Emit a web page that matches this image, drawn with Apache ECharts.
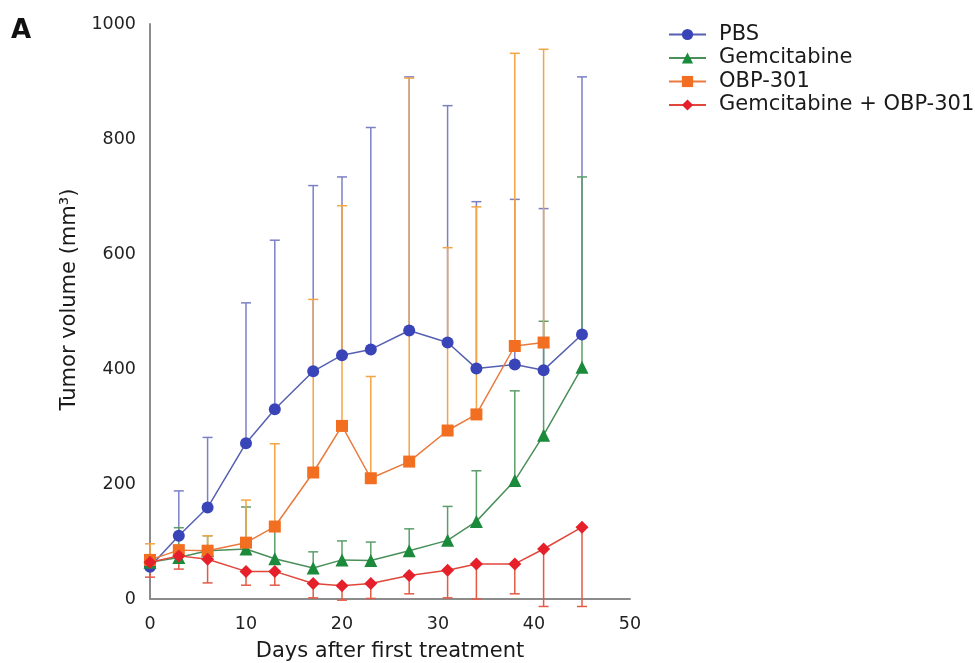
<!DOCTYPE html>
<html>
<head>
<meta charset="utf-8">
<script src="https://cdn.jsdelivr.net/npm/echarts@6/dist/echarts.min.js"></script>
<style>
  html, body { margin: 0; padding: 0; background: #fff; }
  #chart { width: 975px; height: 663px; }
</style>
</head>
<body>
<div id="chart"></div>
<script>
// days after first treatment
const days = [0, 3, 6, 10, 13, 17, 20, 23, 27, 31, 34, 38, 41, 45];

// means and error-bar ends (mm3)
const pbsMean = [56, 110, 159, 271, 330, 396, 424, 434, 467, 446, 401, 408, 398, 460];
const pbsUpper = [62, 188, 281, 515, 624, 719, 734, 820, 908, 858, 691, 695, 679, 908];

const gemMean = [64, 72, 84, 87, 70, 54, 68, 67, 84, 102, 135, 206, 285, 403];
const gemUpper = [72, 124, 110, 160, 130, 82, 101, 99, 122, 161, 223, 362, 483, 734];

const obpDays = [0, 3, 6, 10, 13, 17, 20, 23, 27, 31, 34, 38, 41];
const obpMean = [68, 85, 84, 98, 126, 220, 301, 210, 239, 293, 321, 440, 446];
const obpUpper = [96, 92, 110, 172, 270, 521, 684, 387, 906, 611, 682, 949, 956];

const comboMean = [64, 75, 69, 48, 48, 27, 23, 27, 41, 50, 61, 61, 87, 125];
const comboLower = [38, 52, 28, 24, 24, 2, -2, 1, 9, 2, 0, 9, -13, -13];

const yTicks = [0, 200, 400, 600, 800, 1000];
const xTicks = [0, 10, 20, 30, 40, 50];

const FONT = 'DejaVu Sans, sans-serif';

function pairs(xs, ys) {
    return xs.map((x, i) => [x, ys[i]]);
}

// error bar: line from mean to end, cap at the end only
function errorBars(name, xs, from, to, color) {
    return {
        name: name,
        type: 'custom',
        z: 1,
        silent: true,
        data: xs.map((x, i) => [x, from[i], to[i]]),
        encode: { x: 0, y: [1, 2] },
        renderItem: (params, api) => {
            const p0 = api.coord([api.value(0), api.value(1)]);
            const p1 = api.coord([api.value(0), api.value(2)]);
            return {
                type: 'group',
                children: [
                    { type: 'line', shape: { x1: p0[0], y1: p0[1], x2: p1[0], y2: p1[1] },
                      style: { stroke: color, lineWidth: 1.5 } },
                    { type: 'line', shape: { x1: p1[0] - 5, y1: p1[1], x2: p1[0] + 5, y2: p1[1] },
                      style: { stroke: color, lineWidth: 1.5 } }
                ]
            };
        }
    };
}

function lineSeries(name, data, symbol, size, markerColor, lineColor) {
    return {
        name: name,
        type: 'line',
        z: 3,
        data: data,
        symbol: symbol,
        symbolSize: size,
        showAllSymbol: true,
        itemStyle: { color: markerColor, opacity: 1 },
        lineStyle: { color: lineColor, width: 1.5 },
        emphasis: { disabled: true }
    };
}

let chartDom = document.getElementById('chart');
let myChart = echarts.init(chartDom);
let option = {
    animation: false,
    backgroundColor: '#fff',
    textStyle: { fontFamily: FONT },
    grid: { left: 150, right: 345, top: 24, bottom: 64, outerBoundsMode: 'none', containLabel: false },
    graphic: [{
        type: 'text', left: 11, top: 18,
        style: { text: 'A', font: 'bold 26px ' + FONT, fill: '#111' }
    }],
    legend: {
        orient: 'vertical',
        left: 663,
        top: 19,
        itemWidth: 37,
        itemHeight: 14,
        itemGap: 2.5,
        data: ['PBS', 'Gemcitabine', 'OBP-301', 'Gemcitabine + OBP-301'],
        textStyle: { fontSize: 21, lineHeight: 21, color: '#1a1a1a', padding: [0, 0, 0, 8], fontFamily: FONT }
    },
    xAxis: {
        type: 'value',
        min: xTicks[0],
        max: xTicks[xTicks.length - 1],
        interval: 10,
        name: 'Days after first treatment',
        nameLocation: 'middle',
        nameGap: 42,
        nameTextStyle: { fontSize: 21, color: '#1a1a1a' },
        axisLine: { lineStyle: { color: '#8c8c8c', width: 2 } },
        axisTick: { show: false },
        splitLine: { show: false },
        axisLabel: { fontSize: 17.5, color: '#222', margin: 16, formatter: v => String(v) }
    },
    yAxis: {
        type: 'value',
        min: yTicks[0],
        max: yTicks[yTicks.length - 1],
        interval: 200,
        name: 'Tumor volume (mm³)',
        nameLocation: 'middle',
        nameGap: 70,
        nameTextStyle: { fontSize: 21, color: '#1a1a1a', padding: [0, 0, 0, 24] },
        axisLine: { show: true, lineStyle: { color: '#8c8c8c', width: 2 } },
        axisTick: { show: false },
        splitLine: { show: false },
        axisLabel: { fontSize: 17.5, color: '#222', margin: 14, formatter: v => String(v) }
    },
    series: [
        errorBars('PBS err', days, pbsMean, pbsUpper, '#7b80c6'),
        errorBars('Gem err', days, gemMean, gemUpper, '#5c9e6b'),
        errorBars('OBP err', obpDays, obpMean, obpUpper, '#f4a445'),
        errorBars('Combo err', days, comboMean, comboLower, '#e35a44'),
        lineSeries('PBS', pairs(days, pbsMean), 'circle', 12, '#3944b8', '#5660b2'),
        lineSeries('Gemcitabine', pairs(days, gemMean), 'triangle', 13, '#1b8a3b', '#4b8f5b'),
        lineSeries('OBP-301', pairs(obpDays, obpMean), 'rect', 12, '#f26f21', '#ea7a3c'),
        lineSeries('Gemcitabine + OBP-301', pairs(days, comboMean), 'diamond', 13, '#e6202a', '#e0463a')
    ]
};
option && myChart.setOption(option);
</script>
</body>
</html>
